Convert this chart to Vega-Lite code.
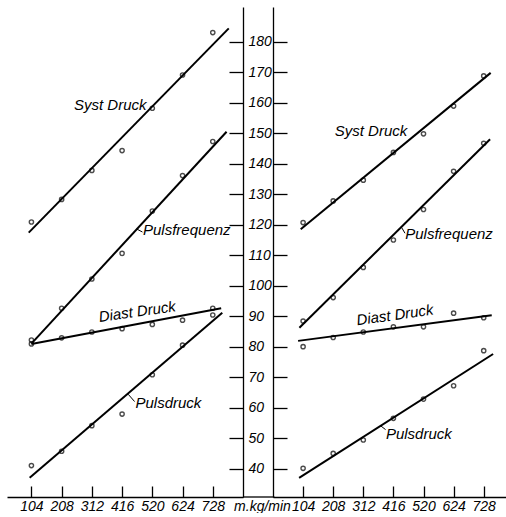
{
  "$schema": "https://vega.github.io/schema/vega-lite/v6.json",
  "background": "white",
  "padding": {"left": 7, "top": 7, "right": 0, "bottom": 0},
  "bounds": "flush",
  "spacing": 30,
  "resolve": {"scale": {"x": "independent", "y": "independent"}},
  "datasets": {
    "points": [
      {"panel": "L", "series": "Syst Druck", "x": 104, "y": 120.9},
      {"panel": "L", "series": "Syst Druck", "x": 208, "y": 128.3},
      {"panel": "L", "series": "Syst Druck", "x": 312, "y": 137.8},
      {"panel": "L", "series": "Syst Druck", "x": 416, "y": 144.3},
      {"panel": "L", "series": "Syst Druck", "x": 520, "y": 158.2},
      {"panel": "L", "series": "Syst Druck", "x": 624, "y": 169.1},
      {"panel": "L", "series": "Syst Druck", "x": 728, "y": 183.0},
      {"panel": "L", "series": "Pulsfrequenz", "x": 104, "y": 82.2},
      {"panel": "L", "series": "Pulsfrequenz", "x": 208, "y": 92.6},
      {"panel": "L", "series": "Pulsfrequenz", "x": 312, "y": 102.2},
      {"panel": "L", "series": "Pulsfrequenz", "x": 416, "y": 110.6},
      {"panel": "L", "series": "Pulsfrequenz", "x": 520, "y": 124.5},
      {"panel": "L", "series": "Pulsfrequenz", "x": 624, "y": 136.1},
      {"panel": "L", "series": "Pulsfrequenz", "x": 728, "y": 147.3},
      {"panel": "L", "series": "Diast Druck", "x": 104, "y": 80.9},
      {"panel": "L", "series": "Diast Druck", "x": 208, "y": 82.9},
      {"panel": "L", "series": "Diast Druck", "x": 312, "y": 84.8},
      {"panel": "L", "series": "Diast Druck", "x": 416, "y": 85.9},
      {"panel": "L", "series": "Diast Druck", "x": 520, "y": 87.3},
      {"panel": "L", "series": "Diast Druck", "x": 624, "y": 88.7},
      {"panel": "L", "series": "Diast Druck", "x": 728, "y": 92.6},
      {"panel": "L", "series": "Pulsdruck", "x": 104, "y": 41.0},
      {"panel": "L", "series": "Pulsdruck", "x": 208, "y": 45.7},
      {"panel": "L", "series": "Pulsdruck", "x": 312, "y": 54.1},
      {"panel": "L", "series": "Pulsdruck", "x": 416, "y": 57.9},
      {"panel": "L", "series": "Pulsdruck", "x": 520, "y": 70.8},
      {"panel": "L", "series": "Pulsdruck", "x": 624, "y": 80.5},
      {"panel": "L", "series": "Pulsdruck", "x": 728, "y": 90.4},
      {"panel": "R", "series": "Syst Druck", "x": 104, "y": 120.7},
      {"panel": "R", "series": "Syst Druck", "x": 208, "y": 127.8},
      {"panel": "R", "series": "Syst Druck", "x": 312, "y": 134.6},
      {"panel": "R", "series": "Syst Druck", "x": 416, "y": 143.7},
      {"panel": "R", "series": "Syst Druck", "x": 520, "y": 149.8},
      {"panel": "R", "series": "Syst Druck", "x": 624, "y": 158.9},
      {"panel": "R", "series": "Syst Druck", "x": 728, "y": 168.8},
      {"panel": "R", "series": "Pulsfrequenz", "x": 104, "y": 88.4},
      {"panel": "R", "series": "Pulsfrequenz", "x": 208, "y": 96.1},
      {"panel": "R", "series": "Pulsfrequenz", "x": 312, "y": 106.0},
      {"panel": "R", "series": "Pulsfrequenz", "x": 416, "y": 115.0},
      {"panel": "R", "series": "Pulsfrequenz", "x": 520, "y": 125.0},
      {"panel": "R", "series": "Pulsfrequenz", "x": 624, "y": 137.5},
      {"panel": "R", "series": "Pulsfrequenz", "x": 728, "y": 146.7},
      {"panel": "R", "series": "Diast Druck", "x": 104, "y": 80.0},
      {"panel": "R", "series": "Diast Druck", "x": 208, "y": 83.0},
      {"panel": "R", "series": "Diast Druck", "x": 312, "y": 84.8},
      {"panel": "R", "series": "Diast Druck", "x": 416, "y": 86.5},
      {"panel": "R", "series": "Diast Druck", "x": 520, "y": 86.5},
      {"panel": "R", "series": "Diast Druck", "x": 624, "y": 91.0},
      {"panel": "R", "series": "Diast Druck", "x": 728, "y": 89.5},
      {"panel": "R", "series": "Pulsdruck", "x": 104, "y": 40.1},
      {"panel": "R", "series": "Pulsdruck", "x": 208, "y": 45.0},
      {"panel": "R", "series": "Pulsdruck", "x": 312, "y": 49.4},
      {"panel": "R", "series": "Pulsdruck", "x": 416, "y": 56.5},
      {"panel": "R", "series": "Pulsdruck", "x": 520, "y": 62.8},
      {"panel": "R", "series": "Pulsdruck", "x": 624, "y": 67.2},
      {"panel": "R", "series": "Pulsdruck", "x": 728, "y": 78.7}
    ],
    "lines": [
      {"panel": "L", "series": "Syst Druck", "x": 94.7, "y": 117.4, "x2": 783, "y2": 184.4},
      {"panel": "L", "series": "Pulsfrequenz", "x": 104, "y": 81.0, "x2": 775.5, "y2": 150.5},
      {"panel": "L", "series": "Diast Druck", "x": 104, "y": 80.9, "x2": 757, "y2": 92.6},
      {"panel": "L", "series": "Pulsdruck", "x": 98, "y": 37.0, "x2": 760.7, "y2": 91.1},
      {"panel": "R", "series": "Syst Druck", "x": 95.7, "y": 118.5, "x2": 752, "y2": 169.8},
      {"panel": "R", "series": "Pulsfrequenz", "x": 91.2, "y": 86.2, "x2": 750, "y2": 148.0},
      {"panel": "R", "series": "Diast Druck", "x": 86.7, "y": 81.9, "x2": 755.7, "y2": 90.3},
      {"panel": "R", "series": "Pulsdruck", "x": 90.2, "y": 37.0, "x2": 760.5, "y2": 77.6}
    ],
    "leaders": [
      {"panel": "L", "x": 466, "y": 118.6, "x2": 486, "y2": 117.6},
      {"panel": "L", "x": 437, "y": 64.4, "x2": 459, "y2": 62.0},
      {"panel": "R", "x": 443, "y": 119.3, "x2": 456, "y2": 117.2},
      {"panel": "R", "x": 370, "y": 54.2, "x2": 389, "y2": 52.8}
    ],
    "labels": [
      {"panel": "L", "text": "Syst Druck", "x": 500, "y": 159.2},
      {"panel": "L", "text": "Pulsfrequenz", "x": 488, "y": 118.3},
      {"panel": "L", "text": "Diast Druck", "x": 468, "y": 91.5},
      {"panel": "L", "text": "Pulsdruck", "x": 462, "y": 61.4},
      {"panel": "R", "text": "Syst Druck", "x": 464, "y": 150.8},
      {"panel": "R", "text": "Pulsfrequenz", "x": 457, "y": 116.8},
      {"panel": "R", "text": "Diast Druck", "x": 421, "y": 90.4},
      {"panel": "R", "text": "Pulsdruck", "x": 390, "y": 51.5}
    ]
  },
  "hconcat": [
    {
      "width": 236,
      "height": 490,
      "layer": [
        {
          "data": {"name": "lines"},
          "transform": [{"filter": "datum.panel === 'L'"}],
          "mark": {"type": "rule", "color": "black", "strokeWidth": 2},
          "encoding": {
            "x": {"field": "x", "type": "quantitative", "scale": {"domain": [20, 832], "nice": false, "zero": false},
              "axis": {"values": [104, 208, 312, 416, 520, 624, 728], "tickCount": 30, "labelOverlap": false, "title": "m.kg/min", "titleX": 255, "titleY": 13, "titleAlign": "center", "titleAnchor": null, "titleBaseline": "alphabetic", "titleAngle": 0,
                "tickSize": -11, "labelPadding": 13, "grid": false}},
            "y": {"field": "y", "type": "quantitative", "scale": {"domain": [30.7, 191.4], "nice": false, "zero": false},
              "axis": {"orient": "right", "values": [40, 50, 60, 70, 80, 90, 100, 110, 120, 130, 140, 150, 160, 170, 180], "tickCount": 30, "labelOverlap": false, "title": null, "tickSize": -14, "labelPadding": 19, "labelAlign": "left", "grid": false}},
            "x2": {"field": "x2"},
            "y2": {"field": "y2"}
          }
        },
        {
          "data": {"name": "leaders"},
          "transform": [{"filter": "datum.panel === 'L'"}],
          "mark": {"type": "rule", "color": "black", "strokeWidth": 1},
          "encoding": {
            "x": {"field": "x", "type": "quantitative"},
            "y": {"field": "y", "type": "quantitative"},
            "x2": {"field": "x2"},
            "y2": {"field": "y2"}
          }
        },
        {
          "data": {"values": [{"a": 1}]},
          "mark": {"type": "rule", "color": "black", "strokeWidth": 1.3},
          "encoding": {
            "x": {"datum": 832, "type": "quantitative"},
            "x2": {"datum": 940},
            "y": {"datum": 30.7, "type": "quantitative"}
          }
        },
        {
          "data": {"name": "points"},
          "transform": [{"filter": "datum.panel === 'L'"}],
          "mark": {"type": "point", "shape": "circle", "filled": false, "color": "black", "size": 18, "strokeWidth": 1.4},
          "encoding": {
            "x": {"field": "x", "type": "quantitative"},
            "y": {"field": "y", "type": "quantitative"}
          }
        },
        {
          "data": {"name": "labels"},
          "transform": [{"filter": "datum.panel === 'L' && datum.text === 'Syst Druck'"}],
          "mark": {"type": "text", "align": "right", "baseline": "middle", "fontSize": 15, "fontStyle": "italic", "font": "Liberation Sans"},
          "encoding": {
            "x": {"field": "x", "type": "quantitative"},
            "y": {"field": "y", "type": "quantitative"},
            "text": {"field": "text"}
          }
        },
        {
          "data": {"name": "labels"},
          "transform": [{"filter": "datum.panel === 'L' && (datum.text === 'Pulsfrequenz' || datum.text === 'Pulsdruck')"}],
          "mark": {"type": "text", "align": "left", "baseline": "middle", "fontSize": 15, "fontStyle": "italic", "font": "Liberation Sans"},
          "encoding": {
            "x": {"field": "x", "type": "quantitative"},
            "y": {"field": "y", "type": "quantitative"},
            "text": {"field": "text"}
          }
        },
        {
          "data": {"name": "labels"},
          "transform": [{"filter": "datum.panel === 'L' && datum.text === 'Diast Druck'"}],
          "mark": {"type": "text", "align": "center", "baseline": "middle", "angle": 352, "fontSize": 15, "fontStyle": "italic", "font": "Liberation Sans"},
          "encoding": {
            "x": {"field": "x", "type": "quantitative"},
            "y": {"field": "y", "type": "quantitative"},
            "text": {"field": "text"}
          }
        }
      ]
    },
    {
      "width": 233,
      "height": 490,
      "layer": [
        {
          "data": {"name": "lines"},
          "transform": [{"filter": "datum.panel === 'R'"}],
          "mark": {"type": "rule", "color": "black", "strokeWidth": 2},
          "encoding": {
            "x": {"field": "x", "type": "quantitative", "scale": {"domain": [0, 805], "nice": false, "zero": false},
              "axis": {"values": [104, 208, 312, 416, 520, 624, 728], "tickCount": 30, "labelOverlap": false, "title": null, "tickSize": -11, "labelPadding": 13, "grid": false}},
            "y": {"field": "y", "type": "quantitative", "scale": {"domain": [30.7, 191.4], "nice": false, "zero": false},
              "axis": {"orient": "left", "values": [40, 50, 60, 70, 80, 90, 100, 110, 120, 130, 140, 150, 160, 170, 180], "tickCount": 30, "title": null, "tickSize": -14, "labels": false, "grid": false}},
            "x2": {"field": "x2"},
            "y2": {"field": "y2"}
          }
        },
        {
          "data": {"name": "leaders"},
          "transform": [{"filter": "datum.panel === 'R'"}],
          "mark": {"type": "rule", "color": "black", "strokeWidth": 1},
          "encoding": {
            "x": {"field": "x", "type": "quantitative"},
            "y": {"field": "y", "type": "quantitative"},
            "x2": {"field": "x2"},
            "y2": {"field": "y2"}
          }
        },
        {
          "data": {"name": "points"},
          "transform": [{"filter": "datum.panel === 'R'"}],
          "mark": {"type": "point", "shape": "circle", "filled": false, "color": "black", "size": 18, "strokeWidth": 1.4},
          "encoding": {
            "x": {"field": "x", "type": "quantitative"},
            "y": {"field": "y", "type": "quantitative"}
          }
        },
        {
          "data": {"name": "labels"},
          "transform": [{"filter": "datum.panel === 'R' && datum.text === 'Syst Druck'"}],
          "mark": {"type": "text", "align": "right", "baseline": "middle", "fontSize": 15, "fontStyle": "italic", "font": "Liberation Sans"},
          "encoding": {
            "x": {"field": "x", "type": "quantitative"},
            "y": {"field": "y", "type": "quantitative"},
            "text": {"field": "text"}
          }
        },
        {
          "data": {"name": "labels"},
          "transform": [{"filter": "datum.panel === 'R' && (datum.text === 'Pulsfrequenz' || datum.text === 'Pulsdruck')"}],
          "mark": {"type": "text", "align": "left", "baseline": "middle", "fontSize": 15, "fontStyle": "italic", "font": "Liberation Sans"},
          "encoding": {
            "x": {"field": "x", "type": "quantitative"},
            "y": {"field": "y", "type": "quantitative"},
            "text": {"field": "text"}
          }
        },
        {
          "data": {"name": "labels"},
          "transform": [{"filter": "datum.panel === 'R' && datum.text === 'Diast Druck'"}],
          "mark": {"type": "text", "align": "center", "baseline": "middle", "angle": 352, "fontSize": 15, "fontStyle": "italic", "font": "Liberation Sans"},
          "encoding": {
            "x": {"field": "x", "type": "quantitative"},
            "y": {"field": "y", "type": "quantitative"},
            "text": {"field": "text"}
          }
        }
      ]
    }
  ],
  "config": {
    "view": {"stroke": null},
    "axis": {
      "domainColor": "black",
      "domainWidth": 1.3,
      "tickColor": "black",
      "tickWidth": 1.3,
      "labelColor": "black",
      "labelFont": "Liberation Sans",
      "labelFontStyle": "italic",
      "labelFontSize": 14,
      "titleColor": "black",
      "titleFont": "Liberation Sans",
      "titleFontStyle": "italic",
      "titleFontWeight": "normal",
      "titleFontSize": 14
    },
    "axisX": {"labelBaseline": "top", "labelFlush": false},
    "axisY": {"labelBaseline": "middle"}
  }
}
